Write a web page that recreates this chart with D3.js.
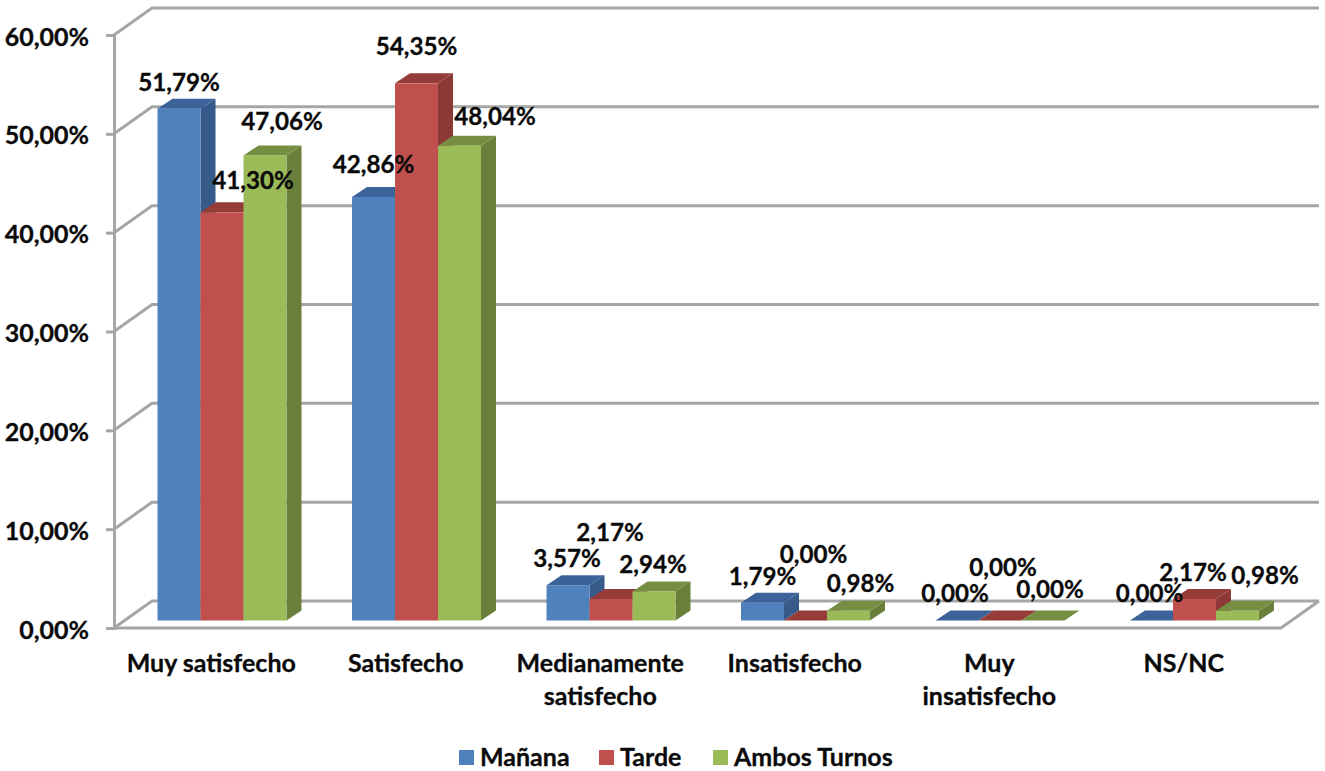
<!DOCTYPE html>
<html><head><meta charset="utf-8">
<script src="https://cdn.jsdelivr.net/npm/d3@7/dist/d3.min.js"></script>
<style>html,body{margin:0;padding:0;background:#fff}svg{display:block}text{font-family:Lato,Carlito,sans-serif;font-weight:700;fill:#0a0a0a;stroke:#0a0a0a;stroke-width:.3px}</style>
</head><body><svg id="c" width="1325" height="771"></svg>
<script>
const categories=["Muy satisfecho","Satisfecho","Medianamente satisfecho","Insatisfecho","Muy insatisfecho","NS/NC"];
const seriesNames=["Mañana","Tarde","Ambos Turnos"];
const manana=[51.79,42.86,3.57,1.79,0,0];
const tarde=[41.30,54.35,2.17,0,0,2.17];
const ambos=[47.06,48.04,2.94,0.98,0,0.98];
const yTicks=[0,10,20,30,40,50,60];
const fronts=["#4f81bd","#c0504d","#9bbb59"],tops=["#3b639a","#953c39","#768e42"],sides=["#365b8b","#8c3836","#6a7f3a"];
// label nudges (px) from each bar's top centre, hand placed as in the picture
const labelDx=[[0,31,17],[0,0,35.5],[-1,-1,-1],[0,8,12],[-2,3,7],[-2,-1.5,27.5]];
const labelDy=[[-18.5,-24,-26],[-25,-29,-21.6],[-19,-59,-19],[-19,-59,-20],[-19.5,-45.5,-23.5],[-19.5,-19,-27.8]];
const values=[manana,tarde,ambos];
const fmt=v=>d3.format(".2f")(v).replace(".",",")+"%";
const W=38,H=27,dX=15,dY=10,fs=25,fsLabel=24.2,grey="#a6a6a6";
const svg=d3.select("#c");
const y=d3.scaleLinear().domain([0,60]).range([628,35]);
const yBar=d3.scaleLinear().domain([0,60]).range([620.5,27.5]);
const xCat=d3.scaleBand().domain(categories).range([114,1281]);
const x0=d3.scaleBand().domain(categories).range([124.75,1291.75]).paddingInner(0.3368).paddingOuter(0.1684);
const x1=d3.scaleBand().domain(d3.range(3)).range([0,x0.bandwidth()]);
const g=svg.append("g");
// walls
g.selectAll(".grid").data(yTicks).join("path").attr("fill","none").attr("stroke",grey).attr("stroke-width",3)
 .attr("d",t=>`M${xCat.range()[0]},${y(t)}L${xCat.range()[0]+W},${y(t)-H}L${xCat.range()[1]+W},${y(t)-H}`);
g.append("path").attr("fill","none").attr("stroke",grey).attr("stroke-width",3)
 .attr("d",`M114,${y(0)}L1281,${y(0)}L${1281+W},${y(0)-H}`);
// y axis
const ax=svg.append("g").attr("transform","translate(114,0)").call(d3.axisLeft(y).tickValues(yTicks).tickFormat(fmt).tickSize(8).tickPadding(17));
ax.selectAll("path,line").attr("stroke",grey).attr("stroke-width",3);
ax.selectAll("text").style("font-size",fs+"px").attr("dy","0.4em");
// bars
const bars=svg.append("g");
categories.forEach((c,i)=>values.forEach((s,k)=>{
  const v=s[i],a=x0(c)+x1(k),b=a+x1.bandwidth(),t=yBar(v),z=yBar(0);
  const gb=bars.append("g");
  if(v>0) gb.append("path").attr("fill",sides[k]).attr("d",`M${b},${t}L${b+dX},${t-dY}L${b+dX},${z-dY}L${b},${z}Z`);
  gb.append("path").attr("fill",tops[k]).attr("d",`M${a},${t}L${a+dX},${t-dY}L${b+dX},${t-dY}L${b},${t}Z`);
  if(v>0) gb.append("rect").attr("fill",fronts[k]).attr("x",a).attr("y",t).attr("width",b-a).attr("height",z-t);
}));
// data labels
const lab=svg.append("g").attr("text-anchor","middle").style("font-size",fsLabel+"px");
categories.forEach((c,i)=>values.forEach((s,k)=>{
  lab.append("text").attr("x",x0(c)+x1(k)+x1.bandwidth()/2+labelDx[i][k]).attr("y",yBar(s[i])+labelDy[i][k]+1).text(fmt(s[i]));
}));
// category axis
const cat=svg.append("g").attr("transform","translate(0,672)").call(d3.axisBottom(xCat).tickSize(0).tickPadding(0));
cat.select(".domain").remove();
cat.selectAll("text").style("font-size",fs+"px").attr("y",0).attr("dy",0).each(function(d){
  const lines=d==="Medianamente satisfecho"?["Medianamente","satisfecho"]:d==="Muy insatisfecho"?["Muy","insatisfecho"]:[d];
  const t=d3.select(this).text(null);
  lines.forEach((l,j)=>t.append("tspan").attr("x",0).attr("y",j*33).text(l));
});
// legend
const legX=[459,599,713];
const leg=svg.append("g");
seriesNames.forEach((n,k)=>{
  leg.append("rect").attr("x",legX[k]).attr("y",750).attr("width",15).attr("height",15).attr("fill",fronts[k]);
  leg.append("text").attr("x",legX[k]+21).attr("y",766).style("font-size",fs+"px").text(n);
});
</script></body></html>
